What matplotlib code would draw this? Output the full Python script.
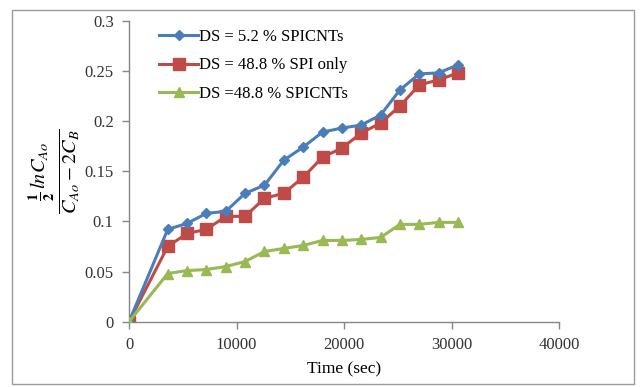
import matplotlib
matplotlib.use("Agg")
import matplotlib.pyplot as plt
from matplotlib.ticker import FuncFormatter, MultipleLocator
from matplotlib.patches import Rectangle

time_s = [0, 3600, 5400, 7200, 9000, 10800, 12600, 14400, 16200, 18000,
          19800, 21600, 23400, 25200, 27000, 28800, 30600]
ds52_spicnt = [0, 0.092, 0.098, 0.108, 0.110, 0.128, 0.136, 0.161, 0.174, 0.189,
               0.193, 0.196, 0.206, 0.231, 0.247, 0.248, 0.256]
ds488_spi = [0, 0.075, 0.088, 0.092, 0.105, 0.105, 0.123, 0.128, 0.144, 0.164,
             0.173, 0.188, 0.198, 0.215, 0.236, 0.241, 0.248]
ds488_spicnt = [0, 0.048, 0.051, 0.052, 0.055, 0.060, 0.070, 0.073, 0.076, 0.081,
                0.081, 0.082, 0.084, 0.097, 0.097, 0.099, 0.099]
labels = ["DS = 5.2 % SPICNTs", "DS = 48.8 % SPI only", "DS =48.8 % SPICNTs"]

plt.rcParams['font.family'] = ['Liberation Serif', 'DejaVu Serif']
plt.rcParams['mathtext.fontset'] = 'stix'

fig = plt.figure(figsize=(6.4, 3.87), dpi=100)
ax = fig.add_axes([0.2016, 0.1687, 0.6719, 0.7778])

ax.plot(time_s, ds52_spicnt, color='#4A7EBB', lw=2.2, marker='D', ms=5.5,
        label=labels[0], zorder=3)
ax.plot(time_s, ds488_spi, color='#BE4B48', lw=2.2, marker='s', ms=8,
        label=labels[1], zorder=2)
ax.plot(time_s, ds488_spicnt, color='#98B954', lw=2.2, marker='^', ms=7.5,
        label=labels[2], zorder=4)

ax.set_xlim(0, 40000)
ax.set_ylim(0, 0.3)
ax.xaxis.set_major_locator(MultipleLocator(10000))
ax.yaxis.set_major_locator(MultipleLocator(0.05))
ax.yaxis.set_major_formatter(FuncFormatter(lambda v, p: '%g' % round(v, 4)))
ax.xaxis.set_major_formatter(FuncFormatter(lambda v, p: '%d' % v))

for s in ['top', 'right']:
    ax.spines[s].set_visible(False)
for s in ['left', 'bottom']:
    ax.spines[s].set_color('#868686')
    ax.spines[s].set_linewidth(1.0)
ax.tick_params(axis='both', colors='#868686', labelcolor='#333333',
               labelsize=12, length=5, width=1, direction='out')
ax.tick_params(axis='x', pad=6)
ax.tick_params(axis='y', pad=6)

ax.set_xlabel('Time (sec)', fontsize=12.5, labelpad=6)
ax.set_ylabel(r'$\frac{\frac{\mathbf{1}}{\mathbf{2}}\,lnC_{Ao}}{C_{Ao}-2C_B}$',
              fontsize=21, labelpad=2)

leg = ax.legend(loc='upper left', bbox_to_anchor=(0.055, 0.995), frameon=False,
                fontsize=12, handlelength=2.3, handletextpad=0.1,
                labelspacing=0.75, borderaxespad=0)

fig.patches.append(Rectangle((0.019, 0.008), 0.972, 0.965, transform=fig.transFigure,
                             fill=False, edgecolor='#9a9a9a', lw=1.0))

fig.savefig('out.png', dpi=100)
